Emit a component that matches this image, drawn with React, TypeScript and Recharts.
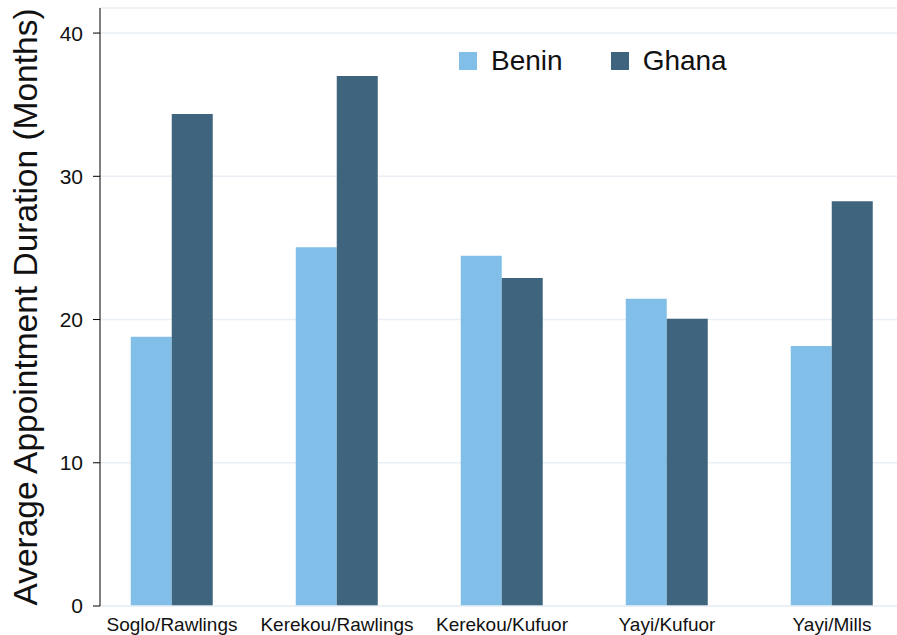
import { BarChart, Bar, XAxis, YAxis, CartesianGrid, Legend } from "recharts";

const pairs = ["Soglo/Rawlings", "Kerekou/Rawlings", "Kerekou/Kufuor", "Yayi/Kufuor", "Yayi/Mills"];
const benin = [18.8, 25.05, 24.45, 21.45, 18.15];
const ghana = [34.35, 37.0, 22.9, 20.05, 28.25];
const yTicks = [0, 10, 20, 30, 40];

const data = pairs.map((pair, i) => ({ pair, Benin: benin[i], Ghana: ghana[i] }));

const FONT = '"Liberation Sans", Arial, Helvetica, sans-serif';
const BENIN_COLOR = "#82bfe8";
const GHANA_COLOR = "#3e647e";
const GRID = "#e9eff4";

const LegendBox = () => (
    <div style={{ display: "flex", alignItems: "center", fontFamily: FONT, fontSize: 28, color: "#111" }}>
        <span style={{ width: 18, height: 18, background: BENIN_COLOR, display: "inline-block", marginRight: 14 }} />
        <span style={{ marginRight: 48 }}>Benin</span>
        <span style={{ width: 18, height: 18, background: GHANA_COLOR, display: "inline-block", marginRight: 14 }} />
        <span>Ghana</span>
    </div>
);

const YTitle = ({ viewBox }: any) => {
    const cy = viewBox.y + viewBox.height / 2;
    return (
        <text
            x={37}
            y={cy}
            transform={`rotate(-90, 37, ${cy})`}
            textAnchor="middle"
            fontFamily={FONT}
            fontSize={33.5}
            fill="#111"
        >
            Average Appointment Duration (Months)
        </text>
    );
};

export default function App() {
    return (
        <div style={{ position: "absolute", left: 0, top: 0, background: "#fff" }}>
            <BarChart
                width={897}
                height={635}
                data={data}
                margin={{ top: 8, right: 0, bottom: 0, left: 0 }}
                barCategoryGap="25%"
                barGap={0}
            >
                <CartesianGrid vertical={false} stroke={GRID} strokeWidth={1.5} />
                <XAxis
                    dataKey="pair"
                    height={29}
                    padding={{ left: -10.5, right: -17.5 }}
                    axisLine={{ stroke: GRID, strokeWidth: 1.5 }}
                    tickLine={false}
                    tickMargin={6}
                    tick={{ fontSize: 19, fill: "#111", fontFamily: FONT }}
                    interval={0}
                />
                <YAxis
                    width={100}
                    domain={[0, 41.75]}
                    ticks={yTicks}
                    allowDataOverflow
                    axisLine={{ stroke: "#000" }}
                    tickLine={{ stroke: "#000" }}
                    tickSize={7}
                    tickMargin={10}
                    tick={{ fontSize: 21, fill: "#111", fontFamily: FONT }}
                    label={{ content: YTitle }}
                />
                <Legend
                    layout="horizontal"
                    verticalAlign="middle"
                    align="center"
                    content={() => <LegendBox />}
                    wrapperStyle={{ left: 459, top: 45, width: "auto" }}
                />
                <Bar dataKey="Benin" fill={BENIN_COLOR} isAnimationActive={false} />
                <Bar dataKey="Ghana" fill={GHANA_COLOR} isAnimationActive={false} />
            </BarChart>
        </div>
    );
}
